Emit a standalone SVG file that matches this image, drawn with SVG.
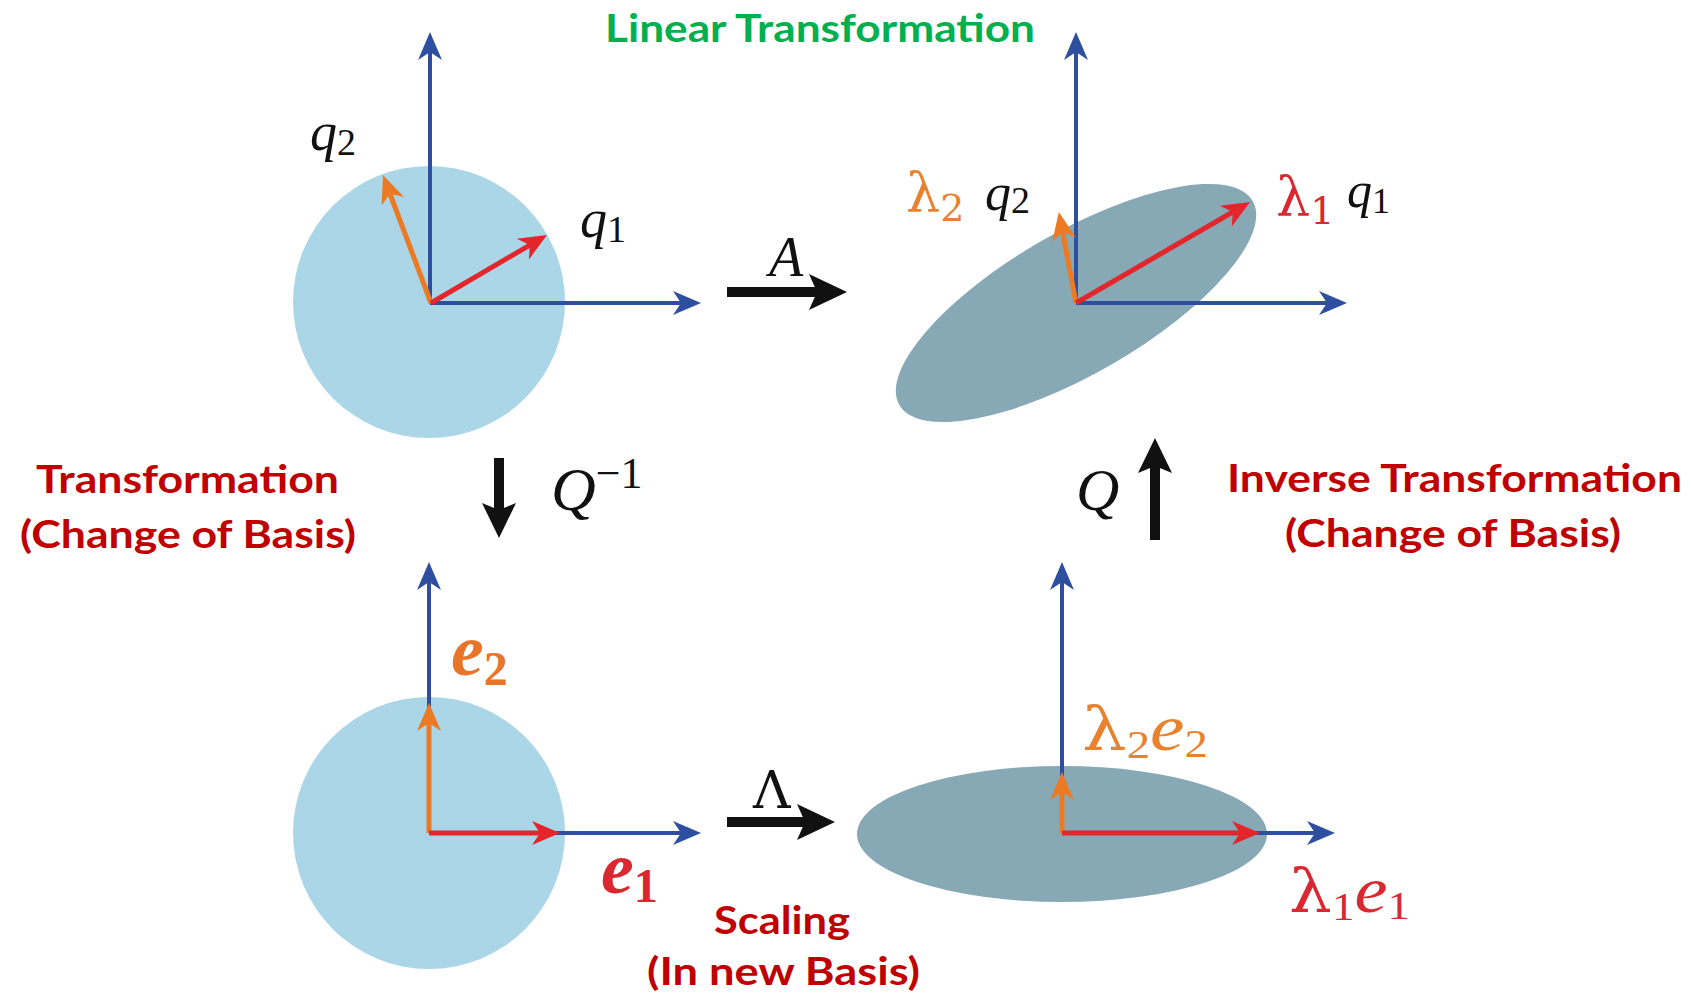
<svg xmlns="http://www.w3.org/2000/svg" width="1691" height="997" viewBox="0 0 1691 997">
<style>
.title{font-family:Lato,"Open Sans","Liberation Sans",sans-serif;font-weight:bold;font-size:39px}
.red{fill:#c00000}
.green{fill:#00b050}
.m{font-family:"Liberation Serif","DejaVu Serif",serif}
.g{font-family:"DejaVu Serif","Liberation Serif",serif}
.it{font-style:italic}
.ax{stroke:#2e4ea0;stroke-width:4;fill:none;marker-end:url(#hb)}
.vr{stroke:#e3262b;stroke-width:5;fill:none;marker-end:url(#hr)}
.vo{stroke:#ec7a24;stroke-width:5;fill:none;marker-end:url(#ho)}
.circ{fill:#abd6e8}
.ell{fill:#87a9b5}
.blk{fill:#111}
</style>
<defs>
<marker id="hb" viewBox="-30 -15 32 30" refX="-16" refY="0" markerWidth="32" markerHeight="30" markerUnits="userSpaceOnUse" orient="auto" overflow="visible"><path d="M0,0 L-28,-12 L-20,0 L-28,12 Z" fill="#2e4ea0"/></marker>
<marker id="hr" viewBox="-30 -15 32 30" refX="-16" refY="0" markerWidth="32" markerHeight="30" markerUnits="userSpaceOnUse" orient="auto" overflow="visible"><path d="M0,0 L-28,-12 L-20,0 L-28,12 Z" fill="#e3262b"/></marker>
<marker id="ho" viewBox="-30 -15 32 30" refX="-16" refY="0" markerWidth="32" markerHeight="30" markerUnits="userSpaceOnUse" orient="auto" overflow="visible"><path d="M0,0 L-28,-12 L-20,0 L-28,12 Z" fill="#ec7a24"/></marker>
</defs>
<rect width="1691" height="997" fill="#fff"/>

<g id="panel-circle-q">
<circle class="circ" cx="429" cy="302" r="136"/>
<line class="ax" x1="430" y1="303" x2="430" y2="48"/>
<line class="ax" x1="430" y1="303" x2="685" y2="303"/>
<line class="vo" x1="431" y1="303" x2="388.6" y2="190"/>
<line class="vr" x1="431" y1="303" x2="533.2" y2="243.1"/>
<text class="m" fill="#111" x="310" y="150"><tspan class="it" font-size="54">q</tspan><tspan font-size="38" dy="5">2</tspan></text>
<text class="m" fill="#111" x="580" y="237"><tspan class="it" font-size="54">q</tspan><tspan font-size="38" dy="5">1</tspan></text>
</g>

<g id="panel-ellipse-q">
<ellipse class="ell" cx="1076" cy="303" rx="204" ry="71" transform="rotate(-30 1076 303)"/>
<line class="ax" x1="1076" y1="303" x2="1076" y2="48"/>
<line class="ax" x1="1076" y1="303" x2="1331" y2="303"/>
<line class="vo" x1="1076" y1="303" x2="1061.8" y2="227.7"/>
<line class="vr" x1="1076" y1="303" x2="1236.2" y2="210"/>
<text class="g" fill="#e8822e" x="906" y="211"><tspan font-size="54">λ</tspan><tspan font-size="38" dy="10">2</tspan></text>
<text class="m" fill="#111" x="985" y="210"><tspan class="it" font-size="52">q</tspan><tspan font-size="38" dy="3">2</tspan></text>
<text class="g" fill="#d9282f" x="1276" y="215"><tspan font-size="54">λ</tspan><tspan font-size="38" dy="9">1</tspan></text>
<text class="m" fill="#111" x="1347" y="207"><tspan class="it" font-size="50">q</tspan><tspan font-size="36" dy="6">1</tspan></text>
</g>

<g id="panel-circle-e">
<circle class="circ" cx="429" cy="833" r="136"/>
<line class="ax" x1="429" y1="833" x2="429" y2="578"/>
<line class="ax" x1="429" y1="833" x2="685" y2="833"/>
<line class="vo" x1="429" y1="833" x2="429" y2="719"/>
<line class="vr" x1="429" y1="833" x2="544" y2="833"/>
<text class="m" fill="#e8752a" font-weight="bold" x="451" y="675"><tspan class="it" font-size="74">e</tspan><tspan font-size="48" dy="10">2</tspan></text>
<text class="m" fill="#d9282f" font-weight="bold" x="601" y="893"><tspan class="it" font-size="74">e</tspan><tspan font-size="48" dy="9">1</tspan></text>
</g>

<g id="panel-ellipse-e">
<ellipse class="ell" cx="1062" cy="834" rx="205" ry="68"/>
<line class="ax" x1="1062" y1="833" x2="1062" y2="578"/>
<line class="ax" x1="1062" y1="833" x2="1319" y2="833"/>
<line class="vo" x1="1062" y1="833" x2="1062" y2="788"/>
<line class="vr" x1="1062" y1="833" x2="1244" y2="833"/>
<text fill="#e8822e" x="1082" y="750" textLength="126" lengthAdjust="spacingAndGlyphs"><tspan class="g" font-size="60">λ</tspan><tspan class="m" font-size="40" dy="8">2</tspan><tspan class="m it" font-size="66" dy="-8">e</tspan><tspan class="m" font-size="40" dy="7">2</tspan></text>
<text fill="#d9282f" x="1289" y="912" textLength="121" lengthAdjust="spacingAndGlyphs"><tspan class="g" font-size="60">λ</tspan><tspan class="m" font-size="40" dy="8">1</tspan><tspan class="m it" font-size="66" dy="-8">e</tspan><tspan class="m" font-size="40" dy="7">1</tspan></text>
</g>

<g id="label-linear">
<text class="title green" x="605" y="42" textLength="430" lengthAdjust="spacingAndGlyphs">Linear Transformation</text>
</g>
<g id="label-transformation">
<text class="title red" x="36" y="493" textLength="303" lengthAdjust="spacingAndGlyphs">Transformation</text>
<text class="title red" x="20" y="548" textLength="336" lengthAdjust="spacingAndGlyphs">(Change of Basis)</text>
</g>
<g id="label-inverse">
<text class="title red" x="1227" y="492" textLength="455" lengthAdjust="spacingAndGlyphs">Inverse Transformation</text>
<text class="title red" x="1285" y="547" textLength="336" lengthAdjust="spacingAndGlyphs">(Change of Basis)</text>
</g>
<g id="label-scaling">
<text class="title red" x="714" y="934" textLength="136" lengthAdjust="spacingAndGlyphs">Scaling</text>
<text class="title red" x="647" y="985" textLength="273" lengthAdjust="spacingAndGlyphs">(In new Basis)</text>
</g>

<g id="connectors">
<g id="arrow-A">
<rect class="blk" x="727" y="287" width="92" height="10"/>
<path class="blk" d="M847,292 L809,274 L817,292 L809,310 Z"/>
<text class="m it" fill="#111" x="769" y="276" font-size="56">A</text>
</g>
<g id="arrow-Lambda">
<rect class="blk" x="727" y="817" width="81" height="10"/>
<path class="blk" d="M835,822 L797,804 L805,822 L797,840 Z"/>
<text class="g" fill="#111" x="753" y="808" font-size="52">Λ</text>
</g>
<g id="arrow-Qinv">
<rect class="blk" x="494" y="458" width="10" height="55"/>
<path class="blk" d="M499,538 L482,503 L499,510 L516,503 Z"/>
<text class="m" fill="#111" x="551" y="510"><tspan class="it" font-size="62">Q</tspan><tspan font-size="44" dy="-22">−1</tspan></text>
</g>
<g id="arrow-Q">
<rect class="blk" x="1150" y="465" width="10" height="75"/>
<path class="blk" d="M1155,438 L1138,473 L1155,466 L1172,473 Z"/>
<text class="m it" fill="#111" x="1076" y="510" font-size="60">Q</text>
</g>
</g>
</svg>
